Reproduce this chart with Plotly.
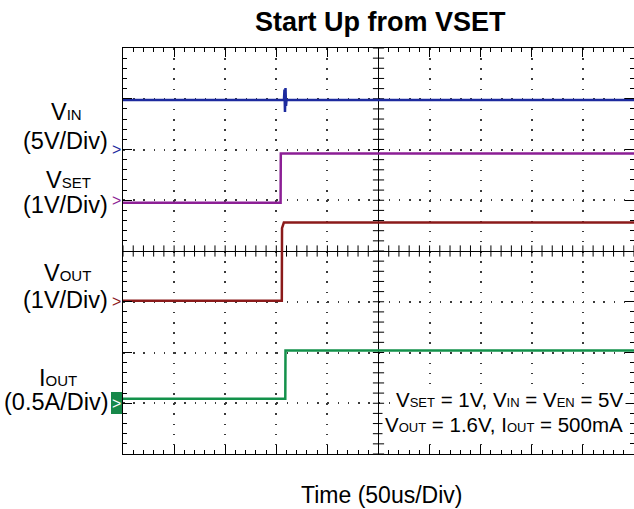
import numpy as np
import plotly.graph_objects as go

# ---------------- data ----------------
# time in microseconds (50 us/div, 0 = screen centre), values in physical units
vin_t = [-250, -92.5, -92.0, -91.5, -91.0, -90.5, -90.0, 250]
vin_v = [4.88, 4.88, 5.9, 3.7, 6.05, 4.3, 4.88, 4.88]          # V

vset_t = [-250, -95.8, -95.6, 250]
vset_v = [-0.05, -0.05, 0.92, 0.92]                           # V

vout_t = [-250, -94.6, -94.4, -92.6, 250]
vout_v = [0.02, 0.02, 1.45, 1.56, 1.56]                        # V

iout_t = [-250, -91.2, -91.0, 250]
iout_v = [0.045, 0.045, 0.52, 0.52]                            # A

# channel settings: scale per division and ground-marker position (in divisions)
ch_names = ["VIN", "VSET", "VOUT", "IOUT"]
ch_scale = [5.0, 1.0, 1.0, 0.5]
ch_offset = [2.0, 1.0, -1.0, -3.0]
ch_colors = ["#1c2a9e", "#8c1f95", "#8b1a1a", "#13914b"]

# ---------------- layout geometry ----------------
W, H = 634, 509
L, R, T, B = 123, 0, 48, 55
PW, PH = W - L - R, H - T - B
FONT = "Liberation Sans, Arial, Helvetica, sans-serif"


def px_x(px):
    return (px - L) / PW


def px_y(py):
    return 1 - (py - T) / PH


fig = go.Figure()

# centre-line tick marks (oscilloscope graticule)
tx = np.arange(-250, 250.01, 10)
fig.add_trace(go.Scatter(x=tx, y=np.zeros_like(tx), mode="markers",
                         marker=dict(symbol="line-ns", size=8,
                                     line=dict(color="black", width=1)),
                         hoverinfo="skip", showlegend=False))
ty = np.arange(-4, 4.001, 0.2)
fig.add_trace(go.Scatter(x=np.zeros_like(ty), y=ty, mode="markers",
                         marker=dict(symbol="line-ew", size=8,
                                     line=dict(color="black", width=1)),
                         hoverinfo="skip", showlegend=False))

series = [(vin_t, vin_v), (vset_t, vset_v), (vout_t, vout_v), (iout_t, iout_v)]
for (t, v), name, sc, off, col in zip(series, ch_names, ch_scale, ch_offset, ch_colors):
    ydiv = off + np.array(v) / sc
    fig.add_trace(go.Scatter(x=t, y=ydiv, mode="lines", name=name,
                             line=dict(color=col, width=2.5),
                             showlegend=False))

ann = []


def add_text(text, x, y, size, anchor="center", color="black", bold=False,
             xref="paper", yref="paper", bg=None):
    d = dict(text=("<b>%s</b>" % text) if bold else text,
             x=x, y=y, xref=xref, yref=yref, xanchor=anchor,
             yanchor="middle", showarrow=False,
             font=dict(family=FONT, size=size, color=color))
    if bg:
        d["bgcolor"] = bg
        d["borderpad"] = 2
    ann.append(d)


def sub(s, size):
    return "<span style='font-size:%dpx'>%s</span>" % (size, s)


# title
add_text("Start Up from VSET", px_x(380), px_y(22), 27, bold=True)
# x label
add_text("Time (50us/Div)", px_x(381), px_y(495), 23)

# channel labels
LS, SS = 23.5, 15.5
labels = [("V" + sub("IN", SS), "(5V/Div)", 66, 111.5, 141),
          ("V" + sub("SET", SS), "(1V/Div)", 68, 180, 204.5),
          ("V" + sub("OUT", SS), "(1V/Div)", 67, 272.5, 300),
          ("I" + sub("OUT", SS), "(0.5A/Div)", 58, 377.5, 401.5)]
for l1, l2, cx, y1, y2 in labels:
    add_text(l1, px_x(cx), px_y(y1), LS)
    add_text(l2, px_x(110), px_y(y2), LS, anchor="right")

# ground markers
for i, (off, col) in enumerate(zip(ch_offset, ch_colors)):
    c = "white" if i == 3 else col
    add_text(">", px_x(116.5), off, 16, color=c, yref="y")

# condition text
CS, CSS = 20.5, 13.5
add_text("V" + sub("SET", CSS) + " = 1V, V" + sub("IN", CSS) + " = V" + sub("EN", CSS) + " = 5V",
         px_x(626), px_y(399.5), CS, anchor="right", bg="white")
add_text("V" + sub("OUT", CSS) + " = 1.6V, I" + sub("OUT", CSS) + " = 500mA",
         px_x(626), px_y(424.5), CS, anchor="right", bg="white")

shapes = [dict(type="rect", xref="paper", yref="paper",
               x0=px_x(111), x1=px_x(123), y0=px_y(414), y1=px_y(392),
               fillcolor="#17884a", line=dict(width=0), layer="below")]

axis_common = dict(showline=True, linecolor="black", linewidth=1, mirror="allticks",
                   ticks="inside", ticklen=9, tickcolor="black", tickwidth=1,
                   showticklabels=False, zeroline=True, zerolinecolor="black",
                   zerolinewidth=1, showgrid=True, gridcolor="#3a3a3a", gridwidth=1.5,
                   fixedrange=True)

fig.update_layout(
    width=W, height=H,
    margin=dict(l=L, r=R, t=T, b=B, pad=0),
    paper_bgcolor="white", plot_bgcolor="white",
    showlegend=False,
    xaxis=dict(range=[-250, 250], dtick=50, tick0=0,
               minor=dict(dtick=10, ticks="inside", ticklen=4, tickcolor="black", showgrid=False),
               griddash="1.5px,8.65px", **axis_common),
    yaxis=dict(range=[-4, 4], dtick=1, tick0=0,
               minor=dict(dtick=0.2, ticks="inside", ticklen=4, tickcolor="black", showgrid=False),
               griddash="1.5px,8.72px", **axis_common),
    annotations=ann,
    shapes=shapes,
)

fig.write_html("out.html", config={"displayModeBar": False},
               post_script="document.body.style.margin='0px';document.body.style.overflow='hidden';")
